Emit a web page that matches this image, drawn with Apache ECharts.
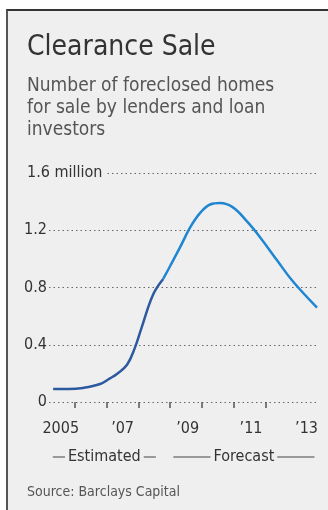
<!DOCTYPE html>
<html>
<head>
<meta charset="utf-8">
<script src="https://cdn.jsdelivr.net/npm/echarts@6/dist/echarts.min.js"></script>
<style>
  html, body { margin: 0; padding: 0; background: #fff; }
  #panel {
    position: absolute; left: 6px; top: 9px; width: 322px; height: 501px;
    background: #efefef; border-top: 2px solid #333; border-left: 2px solid #555;
  }
  #main { position: absolute; left: 0; top: 0; width: 328px; height: 510px; }
</style>
</head>
<body>
<div id="panel"></div>
<div id="main"></div>
<script>
// foreclosed homes for sale, in millions; x is the year as a decimal
const estYears = [2005.31, 2005.8, 2006.25, 2006.79, 2007.1, 2007.32, 2007.64, 2007.89, 2008.1, 2008.46, 2008.78]
const estValues = [0.09, 0.09, 0.098, 0.126, 0.165, 0.196, 0.26, 0.38, 0.52, 0.75, 0.86]
const fcYears = [2008.78, 2009.0, 2009.31, 2009.63, 2009.94, 2010.26, 2010.57, 2010.98, 2011.43, 2011.84, 2012.37, 2012.88, 2013.63]
const fcValues = [0.86, 0.95, 1.08, 1.22, 1.32, 1.38, 1.39, 1.36, 1.26, 1.15, 0.99, 0.84, 0.66]

// axes
const yMax = 1.6
const yStep = 0.4
const xTickYears = [2006, 2007, 2008, 2009, 2010, 2011, 2012]
const xLabelYears = [2005.55, 2007.5, 2009.55, 2011.55, 2013.3]
const xLabelText = ['2005', '\u201907', '\u201909', '\u201911', '\u201913']

// the bracket under the axis
const spanNames = ['Estimated', 'Forecast']
const spanFrom = [2005.3, 2009.1]
const spanTo = [2008.55, 2013.55]

const FONT = '"DejaVu Sans Condensed", "Liberation Sans Narrow", "DejaVu Sans", sans-serif'
const PANEL = '#efefef'

const toXY = (xs, ys) => xs.map((x, i) => [x, ys[i]])

const myChart = echarts.init(document.getElementById('main'))

const option = {
  backgroundColor: 'transparent',
  animation: false,
  title: {
    left: 22,
    top: 29,
    text: 'Clearance Sale',
    textStyle: { fontFamily: FONT, fontSize: 28, fontWeight: 'normal', color: '#333' },
    subtext: 'Number of foreclosed homes\nfor sale by lenders and loan\ninvestors',
    subtextStyle: { fontFamily: FONT, fontSize: 19, lineHeight: 22, color: '#555' },
    itemGap: 13
  },
  grid: { left: 49, right: 11, top: 173, bottom: 108 },
  xAxis: {
    type: 'value',
    min: 2005.18,
    max: 2013.63,
    axisLine: { show: false },
    splitLine: { show: false },
    axisTick: {
      show: true,
      customValues: xTickYears,
      length: 6,
      lineStyle: { color: '#555', width: 1.5 }
    },
    axisLabel: {
      customValues: xLabelYears,
      margin: 19,
      fontFamily: FONT,
      fontSize: 16,
      color: '#333',
      formatter: (v) => {
        const i = xLabelYears.findIndex((y) => Math.abs(y - v) < 1e-6)
        return i < 0 ? '' : xLabelText[i]
      }
    }
  },
  yAxis: {
    type: 'value',
    min: 0,
    max: yMax,
    interval: yStep,
    axisLine: { show: false },
    axisTick: { show: false },
    splitLine: { lineStyle: { type: [1.5, 3], color: '#666', width: 1 } },
    axisLabel: {
      align: 'left',
      margin: 22,
      fontFamily: FONT,
      fontSize: 16,
      color: '#333',
      formatter: (v) => (Math.abs(v - yMax) < 1e-9 ? '{t|' + v + ' million}' : '{n|' + v + '}'),
      rich: {
        t: { fontFamily: FONT, fontSize: 16, color: '#333', backgroundColor: PANEL, padding: [0, 4, 0, 0] },
        n: { fontFamily: FONT, fontSize: 16, color: '#333', width: 20, align: 'right' }
      }
    }
  },
  series: [
    {
      name: 'Estimated',
      type: 'line',
      smooth: 0.4,
      symbol: 'none',
      data: toXY(estYears, estValues),
      lineStyle: { color: '#2d5a9e', width: 2.5 }
    },
    {
      name: 'Forecast',
      type: 'line',
      smooth: 0.4,
      symbol: 'none',
      data: toXY(fcYears, fcValues),
      lineStyle: { color: '#1f86d2', width: 2.5 }
    }
  ]
}

myChart.setOption(option)

// bracket lines + source, placed from the x scale
const spanY = 457
const graphics = []
spanNames.forEach((name, i) => {
  const x0 = myChart.convertToPixel({ xAxisIndex: 0 }, spanFrom[i])
  const x1 = myChart.convertToPixel({ xAxisIndex: 0 }, spanTo[i])
  graphics.push({
    type: 'line',
    shape: { x1: x0, y1: spanY, x2: x1, y2: spanY },
    style: { stroke: '#444', lineWidth: 1.2 }
  })
  graphics.push({
    type: 'text',
    x: (x0 + x1) / 2,
    y: spanY,
    z: 10,
    style: {
      text: name,
      align: 'center',
      verticalAlign: 'middle',
      font: '16px ' + FONT,
      fill: '#333',
      backgroundColor: PANEL,
      padding: [0, 3]
    }
  })
})
graphics.push({
  type: 'text',
  x: 27,
  y: 492,
  style: {
    text: 'Source: Barclays Capital',
    verticalAlign: 'middle',
    font: '14px ' + FONT,
    fill: '#555'
  }
})
myChart.setOption({ graphic: graphics })
</script>
</body>
</html>
